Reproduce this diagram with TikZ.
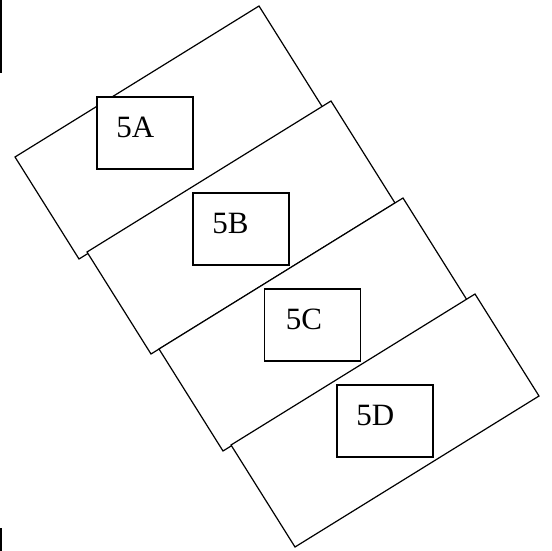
\documentclass[tikz,border=0pt]{standalone}
\usepackage{fontspec}
\setmainfont{Liberation Serif}
\usetikzlibrary{calc}
\begin{document}
\begin{tikzpicture}[x=1pt,y=-1pt,
  bigrect/.style={draw=black,fill=white,line width=1.2pt,line join=miter},
  smallbox/.style={draw=black,fill=white,line width=1.7pt,minimum width=96pt,minimum height=72pt,inner sep=0pt},
  lbl/.style={inner sep=0pt,font=\fontsize{31}{36}\selectfont},
  bar/.style={fill=black,draw=none}]
\useasboundingbox (0,0) rectangle (551,551);
% edge bars
\fill[bar] (0,0) rectangle (2.2,73);
\fill[bar] (0,528) rectangle (2.2,551);
% tilted rectangles
\foreach \n/\tx/\ty in {A/259/6,B/331/101,C/403/198,D/475/294}{
  \coordinate (t\n) at (\tx,\ty);
  \coordinate (l\n) at ($(t\n)+(-244,151)$);
  \coordinate (b\n) at ($(l\n)+(64,102)$);
  \coordinate (r\n) at ($(t\n)+(64,102)$);
  \draw[bigrect] (t\n) -- (l\n) -- (b\n) -- (r\n) -- cycle;
}
% small labelled boxes
\node[smallbox] (box5A) at (145,133) {};
\node[smallbox] (box5B) at (241,229) {};
\node[smallbox] (box5C) at (312.5,325) {};
\node[smallbox] (box5D) at (385,421) {};
\node[lbl,anchor=base west] (txt5A) at ($(box5A.north west)+(20,41)$) {5A};
\node[lbl,anchor=base west] (txt5B) at ($(box5B.north west)+(20,41)$) {5B};
\node[lbl,anchor=base west] (txt5C) at ($(box5C.north west)+(22,41)$) {5C};
\node[lbl,anchor=base west] (txt5D) at ($(box5D.north west)+(20,41)$) {5D};
\end{tikzpicture}
\end{document}
